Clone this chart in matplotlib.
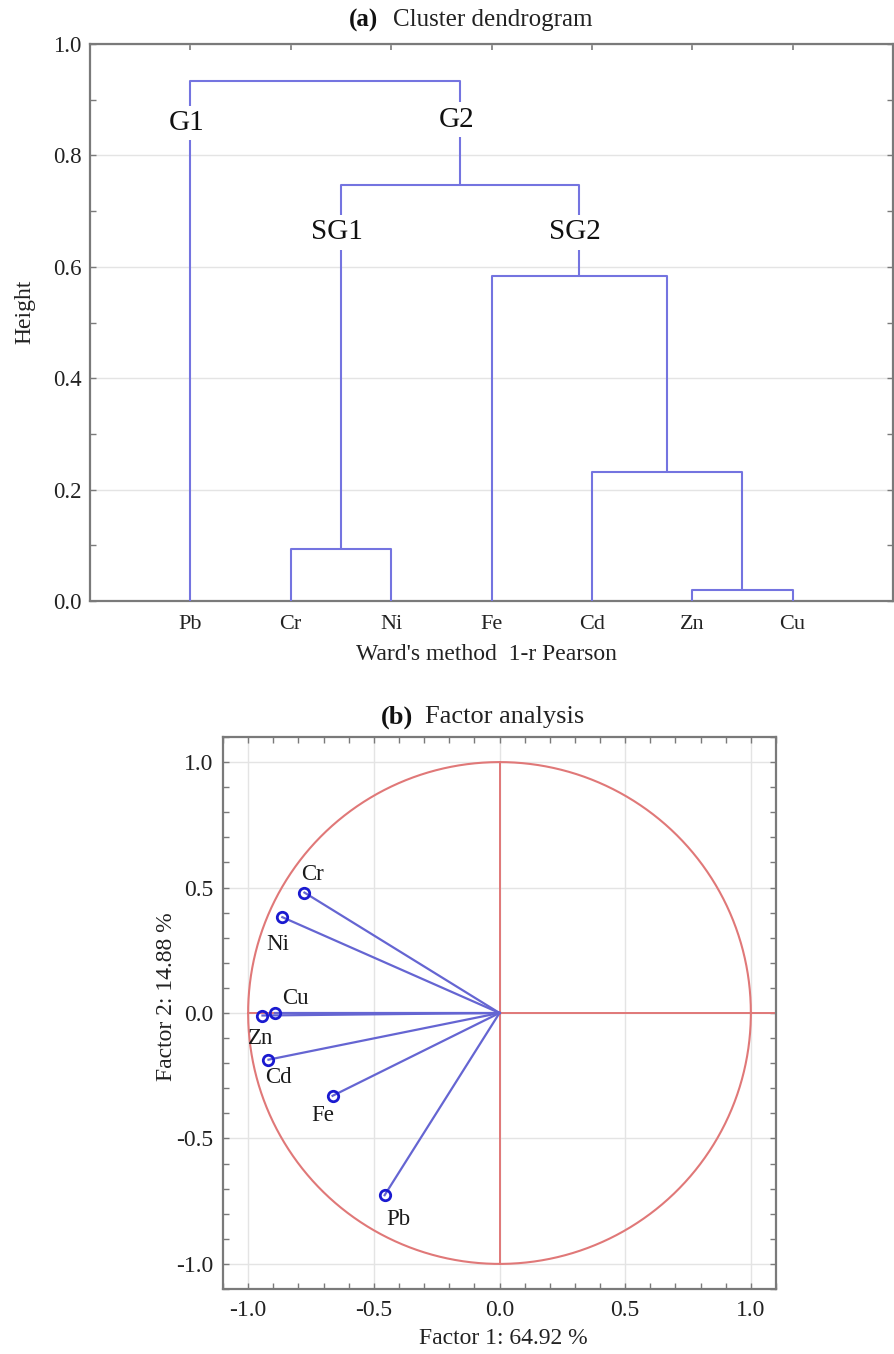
import numpy as np
import matplotlib
matplotlib.use("Agg")
import matplotlib.pyplot as plt
from matplotlib.ticker import MultipleLocator, FixedLocator, FuncFormatter

plt.rcParams['font.family'] = ['Liberation Serif', 'DejaVu Serif']

# ---- data: cluster dendrogram (Ward's method, 1-r Pearson)
leaves = ['Pb', 'Cr', 'Ni', 'Fe', 'Cd', 'Zn', 'Cu']
# merges: ids 0..6 are leaves, new cluster ids start at 7
merge_left = [5, 1, 4, 3, 8, 0]
merge_right = [6, 2, 7, 9, 10, 11]
merge_height = [0.020, 0.093, 0.232, 0.583, 0.747, 0.934]
group_names = ['G1', 'G2', 'SG1', 'SG2']
group_nodes = [0, 11, 8, 10]
group_heights = [0.858, 0.864, 0.662, 0.662]

# ---- data: factor loadings
elements = ['Cr', 'Ni', 'Cu', 'Zn', 'Cd', 'Fe', 'Pb']
factor1 = [-0.776, -0.864, -0.893, -0.943, -0.919, -0.664, -0.457]
factor2 = [0.480, 0.382, 0.000, -0.010, -0.186, -0.330, -0.726]
label_dx = [8, -5, 20, -2, 10, -10, 14]     # label offsets in pixels
label_dy = [18, -27, 15, -23, -18, -20, -24]

W, H = 894, 1354
fig = plt.figure(figsize=(W / 100, H / 100), dpi=100)

def fx(px):
    return px / W

def fy(py):
    return 1 - py / H

spine_col = '#7a7a7a'
grid_col = '#e4e4e4'
txt_col = '#222222'
dend_col = '#7474e0'

# ================= (a) dendrogram
ax1 = fig.add_axes([fx(90), fy(601), (893 - 90) / W, (601 - 44) / H])
xpos = {i: i + 1.0 for i in range(len(leaves))}
ypos = {i: 0.0 for i in range(len(leaves))}
for k, (a, b, h) in enumerate(zip(merge_left, merge_right, merge_height)):
    nid = len(leaves) + k
    ax1.plot([xpos[a], xpos[a], xpos[b], xpos[b]], [ypos[a], h, h, ypos[b]],
             color=dend_col, lw=1.5, solid_capstyle='butt', zorder=3)
    xpos[nid] = (xpos[a] + xpos[b]) / 2
    ypos[nid] = h

for name, node, gh in zip(group_names, group_nodes, group_heights):
    ax1.annotate(name, (xpos[node], gh), xytext=(-4, 0), textcoords='offset pixels',
                 ha='center', va='center', fontsize=21, color='#111111', zorder=5,
                 bbox=dict(boxstyle='square,pad=0.15', fc='white', ec='none'))

ax1.set_xlim(0, 8)
ax1.set_ylim(0, 1.0)
ax1.yaxis.set_major_locator(MultipleLocator(0.2))
ax1.yaxis.set_minor_locator(MultipleLocator(0.1))
ax1.yaxis.set_major_formatter(FuncFormatter(lambda v, p: f'{v:.1f}'))
ax1.xaxis.set_major_locator(FixedLocator(list(range(1, len(leaves) + 1))))
ax1.set_xticklabels(leaves)
ax1.grid(axis='y', color=grid_col, lw=1.0, zorder=0)
ax1.tick_params(axis='x', which='both', bottom=False, top=True, direction='in',
                length=4, width=1.2, color=spine_col, labelsize=16, pad=10,
                labelcolor=txt_col)
ax1.tick_params(axis='y', which='both', left=True, right=True, direction='in',
                length=4, width=1.0, color=spine_col, labelsize=16.5, pad=6,
                labelcolor=txt_col)
for s in ax1.spines.values():
    s.set_color(spine_col)
    s.set_linewidth(1.6)

fig.text(fx(378), fy(20), '(a)', ha='right', va='center', fontsize=18,
         fontweight='bold', color='#111111')
fig.text(fx(393), fy(20), 'Cluster dendrogram', ha='left', va='center',
         fontsize=18, color='#222222')
fig.text(fx(25), fy(312), 'Height', rotation=90, ha='center', va='center',
         fontsize=17, color=txt_col)
fig.text(fx(486), fy(655), "Ward's method  1-r Pearson", ha='center', va='center',
         fontsize=17, color=txt_col)

# ================= (b) factor analysis
ax2 = fig.add_axes([fx(223), fy(1289), (776 - 223) / W, (1289 - 737) / H])
red = '#e07878'
t = np.linspace(0, 2 * np.pi, 400)
ax2.plot(np.cos(t), np.sin(t), color=red, lw=1.5, zorder=2)
ax2.plot([0, 0], [-1, 1], color=red, lw=1.4, zorder=2)
ax2.plot([-1, 1.1], [0, 0], color=red, lw=1.4, zorder=2)

for x, y in zip(factor1, factor2):
    ax2.plot([0, x], [0, y], color='#6565d2', lw=1.6, zorder=3)
ax2.plot(factor1, factor2, 'o', ms=7.5, mfc='none', mec='#1a1ad0', mew=2.0, zorder=4)
for name, x, y, dx, dy in zip(elements, factor1, factor2, label_dx, label_dy):
    ax2.annotate(name, (x, y), xytext=(dx, dy), textcoords='offset pixels',
                 ha='center', va='center', fontsize=16.5, color='#1a1a1a', zorder=5)

ax2.set_xlim(-1.1, 1.1)
ax2.set_ylim(-1.1, 1.1)
for axis in (ax2.xaxis, ax2.yaxis):
    axis.set_major_locator(MultipleLocator(0.5))
    axis.set_minor_locator(MultipleLocator(0.1))
    axis.set_major_formatter(FuncFormatter(lambda v, p: f'{v:.1f}'))
ax2.grid(which='major', color=grid_col, lw=1.0, zorder=0)
ax2.tick_params(which='both', direction='in', top=True, right=True, length=4,
                width=1.0, color=spine_col, labelsize=17, labelcolor=txt_col)
ax2.tick_params(axis='x', pad=8)
ax2.tick_params(axis='y', pad=7)
for s in ax2.spines.values():
    s.set_color(spine_col)
    s.set_linewidth(1.6)

fig.text(fx(413), fy(717), '(b)', ha='right', va='center', fontsize=19,
         fontweight='bold', color='#111111')
fig.text(fx(425), fy(717), 'Factor analysis', ha='left', va='center',
         fontsize=19, color='#222222')
fig.text(fx(166), fy(997), 'Factor 2: 14.88 %', rotation=90, ha='center',
         va='center', fontsize=17, color=txt_col)
fig.text(fx(503), fy(1339), 'Factor 1: 64.92 %', ha='center', va='center',
         fontsize=17, color=txt_col)

fig.savefig('out.png', dpi=100, facecolor='white')
